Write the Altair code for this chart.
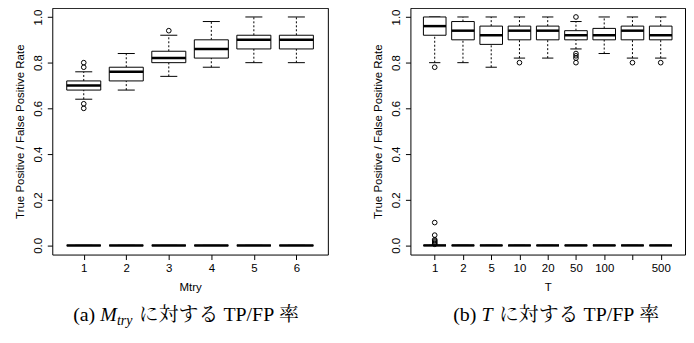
import json
import altair as alt
import pandas as pd

# ---------------- data ----------------
# Panel (a): TP rate vs Mtry  (box statistics: lower whisker, Q1, median, Q3, upper whisker)
mtry_labels = ["1", "2", "3", "4", "5", "6"]
mtry_lo = [0.64, 0.68, 0.74, 0.78, 0.80, 0.80]
mtry_q1 = [0.68, 0.72, 0.80, 0.82, 0.86, 0.86]
mtry_med = [0.70, 0.76, 0.82, 0.86, 0.90, 0.90]
mtry_q3 = [0.72, 0.78, 0.85, 0.90, 0.92, 0.92]
mtry_hi = [0.76, 0.84, 0.92, 0.98, 1.00, 1.00]
mtry_out_pos = [1, 1, 1, 1, 3]
mtry_out_val = [0.80, 0.78, 0.62, 0.60, 0.94]
# FP rate vs Mtry: all statistics are zero
mtry_fp = [0.0, 0.0, 0.0, 0.0, 0.0, 0.0]
mtry_fp_out_pos = []
mtry_fp_out_val = []

# Panel (b): TP rate vs T
t_labels = ["1", "2", "5", "10", "20", "50", "100", "200", "500"]
t_shown = ["1", "2", "5", "10", "20", "50", "100", "", "500"]
t_lo = [0.80, 0.80, 0.78, 0.82, 0.82, 0.86, 0.84, 0.82, 0.82]
t_q1 = [0.92, 0.90, 0.88, 0.90, 0.90, 0.90, 0.90, 0.90, 0.90]
t_med = [0.96, 0.94, 0.92, 0.94, 0.94, 0.92, 0.92, 0.94, 0.92]
t_q3 = [1.00, 0.98, 0.96, 0.96, 0.96, 0.94, 0.95, 0.96, 0.96]
t_hi = [1.00, 1.00, 1.00, 1.00, 1.00, 0.98, 1.00, 1.00, 1.00]
t_out_pos = [1, 4, 6, 6, 6, 6, 6, 8, 9]
t_out_val = [0.78, 0.80, 1.00, 0.84, 0.83, 0.82, 0.80, 0.80, 0.80]
# FP rate vs T: all statistics zero, a few outliers at T = 1
t_fp = [0.0, 0.0, 0.0, 0.0, 0.0, 0.0, 0.0, 0.0, 0.0]
t_fp_out_pos = [1, 1, 1, 1, 1, 1, 1]
t_fp_out_val = [0.10, 0.045, 0.025, 0.02, 0.015, 0.01, 0.005]

y_title = "True Positive / False Positive Rate"
y_ticks = [0.0, 0.2, 0.4, 0.6, 0.8, 1.0]

SANS = "Liberation Sans"
SERIF = "Liberation Serif"
CJK = "Noto Serif CJK JP, Noto Sans CJK JP"
CAP = 20
H = 248


def panel(shown, lo, q1, med, q3, hi, fp, out_pos, out_val, fp_out_pos, fp_out_val,
          xtitle, width, caption):
    n = len(shown)
    pos = list(range(1, n + 1))
    stats = pd.DataFrame({
        "pos": pos + pos,
        "lo": lo + fp, "q1": q1 + fp, "med": med + fp, "q3": q3 + fp, "hi": hi + fp,
    })
    outs = pd.DataFrame({"pos": out_pos + fp_out_pos, "val": out_val + fp_out_val})

    ext = 0.04 * n
    xs = alt.Scale(domain=[0.5 - ext, n + 0.5 + ext], nice=False, zero=False)
    ys = alt.Scale(domain=[-0.04, 1.04], nice=False, zero=False)
    xax = alt.Axis(values=pos, labelExpr=f"{json.dumps(shown)}[datum.value - 1]",
                   grid=False, domain=False, tickSize=5, labelPadding=3,
                   titlePadding=8, labelFontSize=11.5, titleFontSize=11.5,
                   labelFlush=False)
    yax = alt.Axis(values=y_ticks, format=".1f", grid=False, domain=False,
                   tickSize=5, labelPadding=4, labelAngle=270,
                   labelAlign="center", labelBaseline="bottom",
                   titlePadding=7, labelFontSize=11.5, titleFontSize=11.5)

    def X(f):
        return alt.X(f, type="quantitative", scale=xs, axis=xax, title=xtitle)

    def Y(f):
        return alt.Y(f, type="quantitative", scale=ys, axis=yax, title=y_title)

    base = alt.Chart(stats).transform_calculate(
        l="datum.pos - 0.4", r="datum.pos + 0.4",
        cl="datum.pos - 0.2", cr="datum.pos + 0.2")

    whisk_up = base.mark_rule(color="black", strokeDash=[2, 2]).encode(
        x=X("pos"), y=Y("q3"), y2="hi:Q")
    whisk_dn = base.mark_rule(color="black", strokeDash=[2, 2]).encode(
        x=X("pos"), y=Y("lo"), y2="q1:Q")
    cap_up = base.mark_rule(color="black").encode(x=X("cl"), x2="cr:Q", y=Y("hi"))
    cap_dn = base.mark_rule(color="black").encode(x=X("cl"), x2="cr:Q", y=Y("lo"))
    box = base.mark_rect(fill="white", stroke="black", strokeWidth=1).encode(
        x=X("l"), x2="r:Q", y=Y("q1"), y2="q3:Q")
    medl = base.mark_rule(color="black", strokeWidth=2.5).encode(
        x=X("l"), x2="r:Q", y=Y("med"))
    pts = alt.Chart(outs).mark_point(shape="circle", filled=False, color="black",
                                     size=22, strokeWidth=1, opacity=1).encode(
        x=X("pos"), y=Y("val"))

    layers = [whisk_up, whisk_dn, cap_up, cap_dn, box, medl, pts]
    for txt, px, py, font, style, size in caption:
        layers.append(
            alt.Chart(pd.DataFrame({"t": [txt]})).mark_text(
                align="left", baseline="alphabetic", font=font, fontStyle=style,
                fontSize=size, color="black").encode(
                text="t:N", x=alt.value(px), y=alt.value(py)))
    return alt.layer(*layers).properties(width=width, height=H)


# caption pieces: (text, x, y, font, style, size)
base_y = H + 67
a0 = 21
cap_a = [
    ("(a)", a0, base_y, SERIF, "normal", CAP),
    ("M", a0 + 1.36 * CAP, base_y, SERIF, "italic", CAP),
    ("try", a0 + 2.2 * CAP, base_y + 4, SERIF, "italic", CAP * 0.7),
    ("に対する", a0 + 3.3 * CAP, base_y, CJK, "normal", CAP),
    ("TP/FP", a0 + 7.55 * CAP, base_y, SERIF, "normal", CAP),
    ("率", a0 + 10.35 * CAP, base_y, CJK, "normal", CAP),
]
b0 = 43
cap_b = [
    ("(b)", b0, base_y, SERIF, "normal", CAP),
    ("T", b0 + 1.42 * CAP, base_y, SERIF, "italic", CAP),
    ("に対する", b0 + 2.3 * CAP, base_y, CJK, "normal", CAP),
    ("TP/FP", b0 + 6.55 * CAP, base_y, SERIF, "normal", CAP),
    ("率", b0 + 9.35 * CAP, base_y, CJK, "normal", CAP),
]

left = panel(mtry_labels, mtry_lo, mtry_q1, mtry_med, mtry_q3, mtry_hi, mtry_fp,
             mtry_out_pos, mtry_out_val, mtry_fp_out_pos, mtry_fp_out_val,
             "Mtry", 277, cap_a)
right = panel(t_shown, t_lo, t_q1, t_med, t_q3, t_hi, t_fp,
              t_out_pos, t_out_val, t_fp_out_pos, t_fp_out_val,
              "T", 276, cap_b)

chart = alt.hconcat(left, right, spacing=83, bounds="flush").properties(
    padding={"left": 5.5, "top": -2, "right": 0, "bottom": 0}
).configure_view(stroke="black", strokeWidth=1).configure_axis(
    labelFont=SANS, titleFont=SANS, labelColor="black", titleColor="black",
    tickColor="black", titleFontWeight="normal"
)

chart.save("out.html", embed_options={"renderer": "svg", "actions": False})
